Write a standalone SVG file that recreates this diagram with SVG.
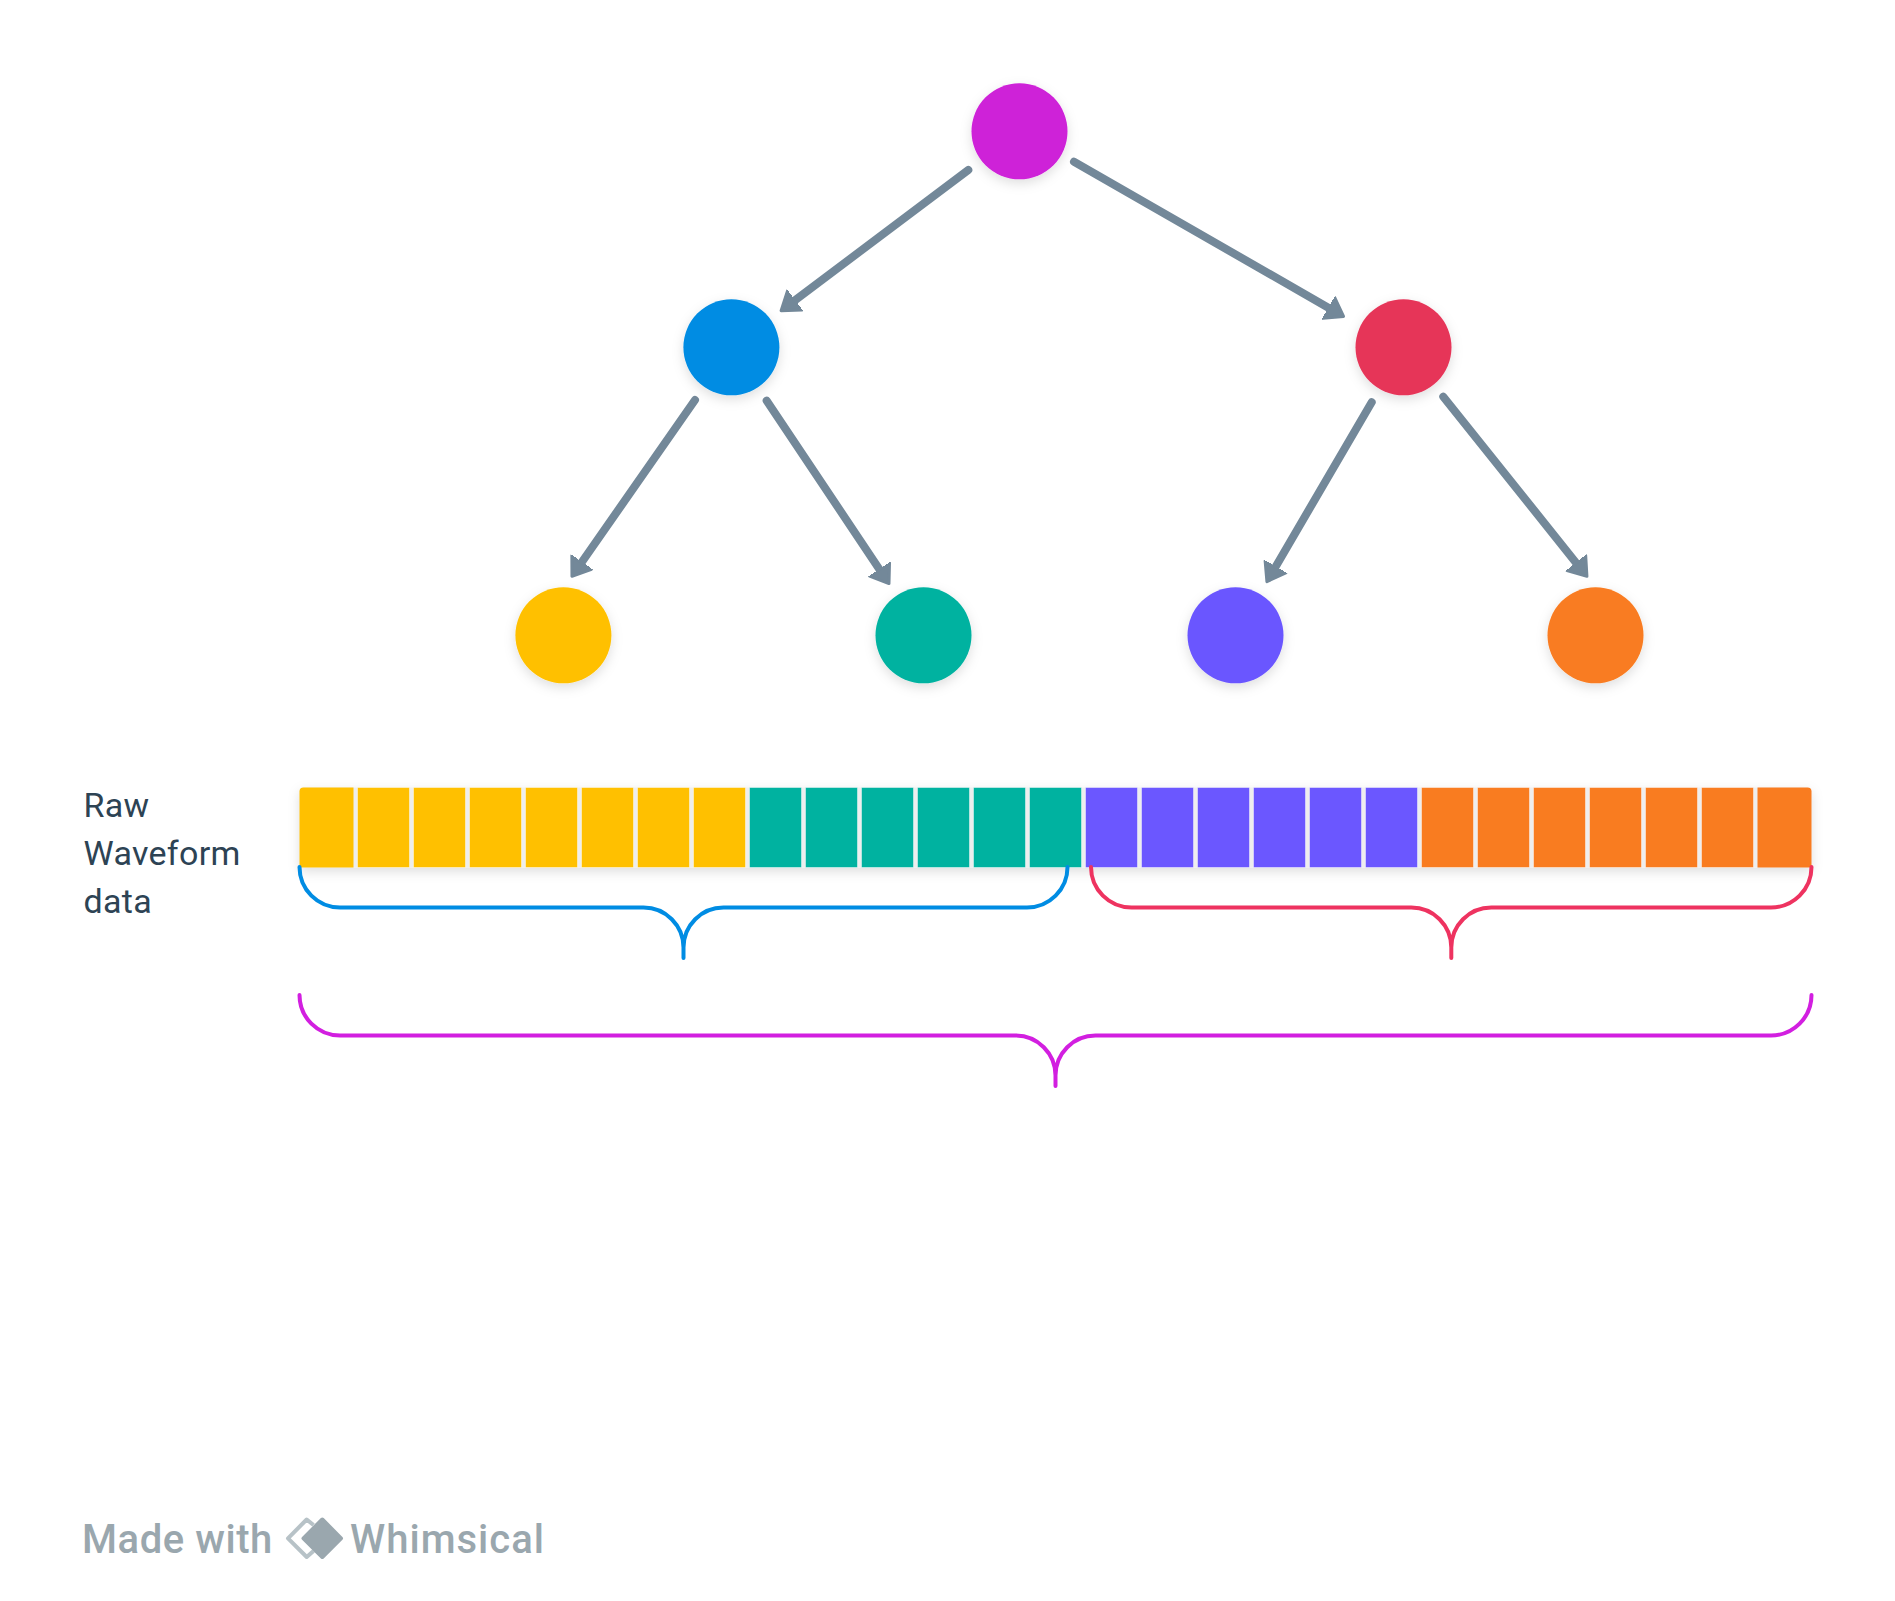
<svg xmlns="http://www.w3.org/2000/svg" width="1895" height="1601" viewBox="0 0 1895 1601">
<style>
.node{filter:url(#sh)}
.edge{fill:none;stroke:#738899;stroke-width:8;stroke-linecap:round;marker-end:url(#arrow)}
.brace{fill:none;stroke-width:4;stroke-linecap:round}
.cell{stroke:#fff;stroke-opacity:.45;stroke-width:1}
.y{fill:#ffc000}.t{fill:#00b2a0}.p{fill:#6b57ff}.o{fill:#f97c20}
.lbl{font-family:Roboto,"Liberation Sans",sans-serif;font-size:34px;letter-spacing:.3px;fill:#2d4354}
.wm{font-family:Roboto,"Liberation Sans",sans-serif;font-size:40px;font-weight:500;fill:#9aa7ae}
</style>
<defs>
<filter id="sh" x="-30%" y="-30%" width="160%" height="170%"><feDropShadow dx="0" dy="4" stdDeviation="6" flood-color="#000" flood-opacity=".13"/></filter>
<marker id="arrow" markerUnits="userSpaceOnUse" markerWidth="30" markerHeight="36" viewBox="0 -18 30 36" refX="8" refY="0" orient="auto">
<path d="M-0.5,-12 L16.5,0 L-0.5,12 Z" fill="#738899" stroke="#738899" stroke-width="3" stroke-linejoin="round" transform="translate(1,0)"/>
</marker>
</defs>
<rect width="1895" height="1601" fill="#fff"/>
<g id="connectors">
<path class="edge" d="M968.3,170 L788.7,305"/>
<path class="edge" d="M1074,161.7 L1335.3,311.7"/>
<path class="edge" d="M695,400 L577.4,568.5"/>
<path class="edge" d="M766.7,400.7 L883.7,575.7"/>
<path class="edge" d="M1371.7,402.3 L1271.7,573.4"/>
<path class="edge" d="M1443.3,396.7 L1581,568.9"/>
</g>
<g id="node-root" class="node"><circle cx="1019.5" cy="131.3" r="48" fill="#ce20d8"/></g>
<g id="node-left" class="node"><circle cx="731.4" cy="347.3" r="48" fill="#008ce3"/></g>
<g id="node-right" class="node"><circle cx="1403.5" cy="347.3" r="48" fill="#e63559"/></g>
<g id="node-ll" class="node"><circle cx="563.4" cy="635.3" r="48" fill="#ffc000"/></g>
<g id="node-lr" class="node"><circle cx="923.5" cy="635.3" r="48" fill="#00b2a0"/></g>
<g id="node-rl" class="node"><circle cx="1235.5" cy="635.3" r="48" fill="#6b57ff"/></g>
<g id="node-rr" class="node"><circle cx="1595.5" cy="635.3" r="48" fill="#f97c20"/></g>
<g id="waveform">
<rect x="299.5" y="787.5" width="1512" height="80" rx="4" fill="#eeeeee" filter="url(#sh)"/>
<path class="y" d="M299.5,791.5 a4,4 0 0 1 4,-4 H353.5 V867.5 H299.5 Z"/>
<rect class="cell y" x="357.5" y="787.5" width="52" height="80"/>
<rect class="cell y" x="413.5" y="787.5" width="52" height="80"/>
<rect class="cell y" x="469.5" y="787.5" width="52" height="80"/>
<rect class="cell y" x="525.5" y="787.5" width="52" height="80"/>
<rect class="cell y" x="581.5" y="787.5" width="52" height="80"/>
<rect class="cell y" x="637.5" y="787.5" width="52" height="80"/>
<rect class="cell y" x="693.5" y="787.5" width="52" height="80"/>
<rect class="cell t" x="749.5" y="787.5" width="52" height="80"/>
<rect class="cell t" x="805.5" y="787.5" width="52" height="80"/>
<rect class="cell t" x="861.5" y="787.5" width="52" height="80"/>
<rect class="cell t" x="917.5" y="787.5" width="52" height="80"/>
<rect class="cell t" x="973.5" y="787.5" width="52" height="80"/>
<rect class="cell t" x="1029.5" y="787.5" width="52" height="80"/>
<rect class="cell p" x="1085.5" y="787.5" width="52" height="80"/>
<rect class="cell p" x="1141.5" y="787.5" width="52" height="80"/>
<rect class="cell p" x="1197.5" y="787.5" width="52" height="80"/>
<rect class="cell p" x="1253.5" y="787.5" width="52" height="80"/>
<rect class="cell p" x="1309.5" y="787.5" width="52" height="80"/>
<rect class="cell p" x="1365.5" y="787.5" width="52" height="80"/>
<rect class="cell o" x="1421.5" y="787.5" width="52" height="80"/>
<rect class="cell o" x="1477.5" y="787.5" width="52" height="80"/>
<rect class="cell o" x="1533.5" y="787.5" width="52" height="80"/>
<rect class="cell o" x="1589.5" y="787.5" width="52" height="80"/>
<rect class="cell o" x="1645.5" y="787.5" width="52" height="80"/>
<rect class="cell o" x="1701.5" y="787.5" width="52" height="80"/>
<path class="o" d="M1757.5,787.5 H1807.5 a4,4 0 0 1 4,4 V867.5 H1757.5 Z"/>
</g>
<g id="braces">
<path class="brace" stroke="#008ce3" d="M299.5,867 A40.5,40.5 0 0 0 340,907.5 H643.5 A40,40 0 0 1 683.5,947.5 V958 M683.5,947.5 A40,40 0 0 1 723.5,907.5 H1027 A40.5,40.5 0 0 0 1067.5,867"/>
<path class="brace" stroke="#ee3360" d="M1091,867 A40.5,40.5 0 0 0 1131.5,907.5 H1411.3 A40,40 0 0 1 1451.3,947.5 V958 M1451.3,947.5 A40,40 0 0 1 1491.3,907.5 H1771 A40.5,40.5 0 0 0 1811.5,867"/>
<path class="brace" stroke="#d21fe0" d="M299.5,995 A40.5,40.5 0 0 0 340,1035.5 H1015.5 A40,40 0 0 1 1055.5,1075.5 V1086 M1055.5,1075.5 A40,40 0 0 1 1095.5,1035.5 H1771 A40.5,40.5 0 0 0 1811.5,995"/>
</g>
<g id="label">
<text class="lbl" x="83.5" y="816.5">Raw</text>
<text class="lbl" x="83.5" y="864.5">Waveform</text>
<text class="lbl" x="83.5" y="912.5">data</text>
</g>
<g id="watermark">
<text class="wm" x="82" y="1552.5" letter-spacing=".55">Made with</text>
<path d="M313.5,1525 L306.7,1519.5 L288,1538.3 L306.7,1557 L313.5,1551" fill="none" stroke="#b7c2c7" stroke-width="4" stroke-linejoin="round"/>
<polygon points="322.3,1519.5 341,1538.3 322.3,1557 303.5,1538.3" fill="#9aa7ae" stroke="#9aa7ae" stroke-width="4" stroke-linejoin="round"/>
<text class="wm" x="350" y="1552.5" letter-spacing="1">Whimsical</text>
</g>
</svg>
